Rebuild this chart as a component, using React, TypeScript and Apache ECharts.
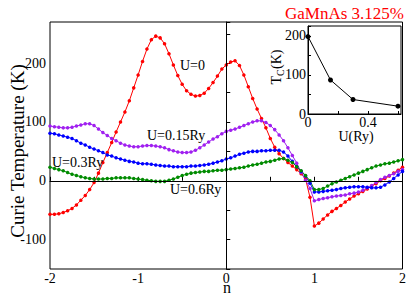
import React, { useEffect, useRef } from 'react';
import * as echarts from 'echarts';

const FONT = "'Liberation Serif', 'Times New Roman', 'DejaVu Serif', serif";

// band filling n (x axis)
const N = [
  -2, -1.95, -1.9, -1.85, -1.8, -1.75, -1.7, -1.65, -1.6, -1.55,
  -1.5, -1.45, -1.4, -1.35, -1.3, -1.25, -1.2, -1.15, -1.1, -1.05,
  -1, -0.95, -0.9, -0.85, -0.8, -0.75, -0.7, -0.65, -0.6, -0.55,
  -0.5, -0.45, -0.4, -0.35, -0.3, -0.25, -0.2, -0.15, -0.1, -0.05,
  0, 0.05, 0.1, 0.15, 0.2, 0.25, 0.3, 0.35, 0.4, 0.45,
  0.5, 0.55, 0.6, 0.65, 0.7, 0.75, 0.8, 0.85, 0.9, 0.95,
  1, 1.05, 1.1, 1.15, 1.2, 1.25, 1.3, 1.35, 1.4, 1.45,
  1.5, 1.55, 1.6, 1.65, 1.7, 1.75, 1.8, 1.85, 1.9, 1.95,
  2,
];

// Curie temperature (K), U = 0
const TC_U0 = [
  -57, -57, -56, -54, -51, -47, -41, -33, -25, -15,
  -3, 13, 31, 48, 65, 83, 100, 117, 136, 158,
  180, 203, 224, 240, 246, 243, 233, 216, 197, 179,
  164, 153, 147, 144, 145, 149, 157, 167, 178, 190,
  197, 202, 204, 196, 180, 160, 140, 122, 106, 90,
  72, 57, 46, 38, 31, 25, 19, 12, 3, -28,
  -77, -72, -65, -58, -52, -47, -42, -36, -31, -26,
  -22, -18, -14, -9, -5, 0, 4, 8, 13, 18,
  23,
];

// U = 0.15 Ry
const TC_U015 = [
  93, 92, 91, 90, 90, 91, 93, 95, 97, 97,
  94, 88, 82, 77, 72, 68, 64, 61, 59, 58,
  58, 59, 60, 60, 59, 58, 56, 53, 51, 49,
  48, 48, 49, 52, 56, 61, 66, 71, 75, 80,
  84, 86, 88, 91, 94, 97, 100, 102, 102, 99,
  94, 87, 78, 68, 56, 43, 30, 14, 1, -13,
  -34, -32, -30, -29, -27, -26, -25, -24, -22, -21,
  -19, -16, -12, -8, -3, 2, 6, 9, 12, 16,
  19,
];

// U = 0.3 Ry
const TC_U03 = [
  81, 80, 78, 76, 74, 72, 68, 64, 61, 57,
  54, 51, 48, 44, 42, 39, 37, 35, 33, 32,
  30, 29, 29, 28, 27, 26, 25, 25, 24, 24,
  24, 24, 25, 25, 26, 27, 28, 30, 32, 34,
  37, 39, 42, 45, 47, 49, 50, 50, 51, 51,
  52, 52, 52, 49, 42, 33, 24, 16, 8, -4,
  -19, -19, -18, -17, -16, -15, -13, -12, -11, -10,
  -10, -10, -11, -12, -12, -11, -7, -2, 4, 10,
  16,
];

// U = 0.6 Ry
const TC_U06 = [
  23, 21, 19, 17, 14, 11, 9, 7, 5, 4,
  3, 3, 3, 4, 4, 5, 5, 5, 5, 4,
  3, 2, 1, 0, -1, -1, -1, 1, 3, 6,
  9, 11, 13, 14, 15, 16, 16, 17, 18, 18,
  19, 20, 21, 22, 23, 25, 27, 28, 30, 32,
  33, 35, 37, 38, 35, 31, 24, 17, 9, 0,
  -15, -15, -13, -9, -5, -2, 1, 4, 7, 10,
  13, 16, 19, 22, 25, 27, 29, 30, 32, 34,
  36,
];

// inset: Tc vs U
const INSET_U = [0, 0.15, 0.3, 0.6];
const INSET_TC = [198, 87, 37, 20];

const SERIES_NAMES = ['U=0', 'U=0.15Ry', 'U=0.3Ry', 'U=0.6Ry'];
const TITLE = 'GaMnAs 3.125%';

export default function App() {
  const ref = useRef<HTMLDivElement>(null);
  useEffect(() => {
    const chart = echarts.init(ref.current!, null, { renderer: 'svg' });
    const zip = (ys: number[]) => N.map((n, i) => [n, ys[i]]);
    const lineSeries = (name: string, ys: number[], color: string) => ({
      name,
      type: 'line',
      data: zip(ys),
      xAxisIndex: 0,
      yAxisIndex: 0,
      symbol: 'circle',
      symbolSize: 3.5,
      showSymbol: true,
      lineStyle: { color, width: 1 },
      itemStyle: { color },
      z: 3,
    });
    const axisText = { color: '#000', fontSize: 14, fontFamily: FONT, lineHeight: 14 };
    const txt = (text: string, x: number, y: number, extra: any = {}) => ({
      type: 'text',
      x,
      y,
      z: 20,
      style: {
        text,
        fill: '#000',
        fontSize: 14,
        fontFamily: FONT,
        align: 'left',
        verticalAlign: 'middle',
        ...extra,
      },
    });
    chart.setOption({
      animation: false,
      backgroundColor: '#fff',
      textStyle: { fontFamily: FONT },
      grid: [
        { left: 50, top: 22, right: 5, bottom: 27, show: true, borderColor: '#000', borderWidth: 1, backgroundColor: 'transparent' },
        { left: 308, top: 26, width: 93, height: 88, show: true, borderColor: '#000', borderWidth: 1, backgroundColor: '#fff', z: 5 },
      ],
      xAxis: [
        {
          type: 'value', gridIndex: 0, min: -2, max: 2, interval: 0.5,
          axisLine: { lineStyle: { color: '#000', width: 1 } },
          axisTick: { inside: true, length: 4, lineStyle: { color: '#000' } },
          axisLabel: { ...axisText, margin: 2, formatter: (v: number) => (Number.isInteger(v) ? String(v) : '') },
          splitLine: { show: false },
        },
        {
          type: 'value', gridIndex: 1, min: 0, max: 0.62, interval: 0.2, z: 6,
          axisLine: { lineStyle: { color: '#000', width: 1 } },
          axisTick: { inside: true, length: 3, lineStyle: { color: '#000' } },
          axisLabel: {
            ...axisText, margin: 1, showMaxLabel: false,
            formatter: (v: number) => (Math.abs(v) < 1e-9 ? '0' : Math.abs(v - 0.4) < 1e-9 ? '0.4' : ''),
          },
          splitLine: { show: false },
        },
      ],
      yAxis: [
        {
          type: 'value', gridIndex: 0, min: -150, max: 270, interval: 50,
          axisLine: { lineStyle: { color: '#000', width: 1 } },
          axisTick: { inside: true, length: 4, lineStyle: { color: '#000' } },
          axisLabel: { ...axisText, margin: 4, formatter: (v: number) => (v % 100 === 0 ? String(v) : '') },
          splitLine: { show: false },
        },
        {
          type: 'value', gridIndex: 1, min: 0, max: 225, interval: 50, z: 6,
          axisLine: { lineStyle: { color: '#000', width: 1 } },
          axisTick: { inside: true, length: 3, lineStyle: { color: '#000' } },
          axisLabel: { ...axisText, margin: 2, formatter: (v: number) => (v % 100 === 0 ? String(v) : '') },
          splitLine: { show: false },
        },
      ],
      series: [
        {
          type: 'line', data: [], xAxisIndex: 0, yAxisIndex: 0, z: 1,
          markLine: {
            silent: true, symbol: ['none', 'none'], label: { show: false },
            lineStyle: { color: '#000', width: 1, type: 'solid' },
            data: [{ xAxis: 0 }, { yAxis: 0 }],
          },
        },
        lineSeries(SERIES_NAMES[0], TC_U0, '#ff0000'),
        lineSeries(SERIES_NAMES[1], TC_U015, '#a020f0'),
        lineSeries(SERIES_NAMES[2], TC_U03, '#0000ff'),
        lineSeries(SERIES_NAMES[3], TC_U06, '#008b00'),
        {
          type: 'line', xAxisIndex: 1, yAxisIndex: 1, z: 7,
          data: INSET_U.map((u, i) => [u, INSET_TC[i]]),
          symbol: 'circle', symbolSize: 5,
          lineStyle: { color: '#000', width: 1 },
          itemStyle: { color: '#000' },
        },
      ],
      graphic: [
        txt(TITLE, 404, 13, { fill: '#ff0000', fontSize: 17, align: 'right' }),
        txt(SERIES_NAMES[0], 180, 65),
        txt(SERIES_NAMES[1], 147, 135),
        txt(SERIES_NAMES[2], 52, 162),
        txt(SERIES_NAMES[3], 170, 189),
        txt('n', 227, 287, { fontSize: 16, align: 'center', verticalAlign: 'middle' }),
        {
          type: 'text', x: 17, y: 151, rotation: Math.PI / 2, z: 20,
          style: { text: 'Curie Temperature (K)', fill: '#000', fontSize: 19, fontFamily: FONT, align: 'center', verticalAlign: 'middle' },
        },
        {
          type: 'group', x: 276, y: 67, rotation: Math.PI / 2, z: 20,
          children: [
            { type: 'text', x: -17.5, y: 0, style: { text: 'T', fill: '#000', fontSize: 14, fontFamily: FONT, align: 'left', verticalAlign: 'middle' } },
            { type: 'text', x: -9, y: 4, style: { text: 'C', fill: '#000', fontSize: 10, fontFamily: FONT, align: 'left', verticalAlign: 'middle' } },
            { type: 'text', x: -2, y: 0, style: { text: '(K)', fill: '#000', fontSize: 14, fontFamily: FONT, align: 'left', verticalAlign: 'middle' } },
          ],
        },
        txt('U(Ry)', 356, 136, { align: 'center' }),
      ],
    });
    return () => chart.dispose();
  }, []);
  return <div ref={ref} style={{ position: 'absolute', left: 0, top: 0, width: 409, height: 296 }} />;
}
